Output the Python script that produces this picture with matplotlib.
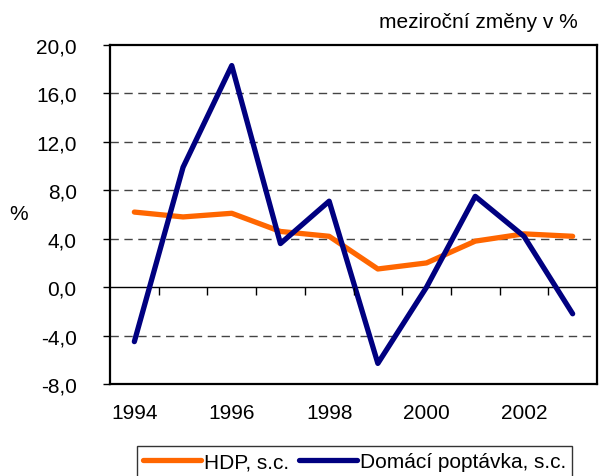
import matplotlib
matplotlib.use('Agg')
from matplotlib import pyplot as plt
import numpy as np

plt.rcParams['font.family'] = ['Liberation Sans', 'DejaVu Sans']

# data
roky = list(range(1994, 2004))
hdp = [6.2, 5.8, 6.1, 4.6, 4.2, 1.5, 2.0, 3.8, 4.4, 4.2]
poptavka = [-4.5, 9.9, 18.3, 3.6, 7.1, -6.3, 0.0, 7.5, 4.2, -2.2]
y_ticks = [-8, -4, 0, 4, 8, 12, 16, 20]

fig = plt.figure(figsize=(5.99, 4.77), dpi=100)
ax = fig.add_axes([110/599, 1-385/477, 487/599, 339/477])

ax.plot(roky, hdp, color='#FF6600', lw=3.8, label='HDP, s.c.', solid_capstyle='round', zorder=3)
ax.plot(roky, poptavka, color='#000080', lw=3.8, label='Domácí poptávka, s.c.', solid_capstyle='round', zorder=4)

ax.set_xlim(roky[0]-0.5, roky[-1]+0.5)
ax.set_ylim(-8, 20)

# mrizka
for v in y_ticks:
    if v in (-8, 0, 20):
        continue
    ax.axhline(v, color='#444444', lw=1, ls=(0, (6, 4)), zorder=1)
ax.axhline(0, color='black', lw=1, zorder=2)

ax.set_yticks(y_ticks)
ax.set_yticklabels(['{:.1f}'.format(v).replace('.', ',') for v in y_ticks], fontsize=15)
ax.tick_params(axis='y', direction='out', length=5, width=1, pad=19)

ax.set_xticks(roky[::2])
ax.set_xticklabels([str(r) for r in roky[::2]], fontsize=15)
ax.tick_params(axis='x', length=0, pad=14)

for s in ax.spines.values():
    s.set_linewidth(1.6)

# carky na nulove ose
ax2 = ax.twiny()
ax2.set_xlim(ax.get_xlim())
ax2.spines['bottom'].set_position(('data', 0))
for s in ax2.spines.values():
    s.set_visible(False)
ax2.xaxis.set_ticks_position('bottom')
ax2.set_xticks(np.array(roky[1:]) - 0.5)
ax2.set_xticklabels([])
ax2.tick_params(axis='x', direction='out', length=5.8, width=1)

fig.text(19/599, 1-215/477, '%', fontsize=15, ha='center', va='center')
fig.text(578/599, 1-23/477, 'meziroční změny v %', fontsize=15, ha='right', va='center')

leg = fig.legend(loc='upper left', bbox_to_anchor=(137/599, 1-447/477), ncol=2,
                 fontsize=15, frameon=True, fancybox=False, edgecolor='black',
                 handlelength=2.75, handletextpad=0.15, columnspacing=0.5,
                 borderpad=0.3, borderaxespad=0)
leg.get_frame().set_linewidth(1)

plt.savefig('out.png', dpi=100)
